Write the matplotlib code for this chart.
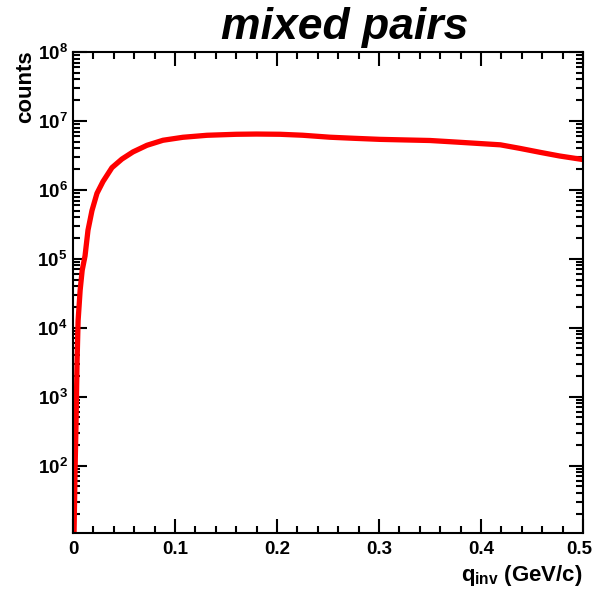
import matplotlib
matplotlib.use("Agg")
from matplotlib import pyplot as plt
from matplotlib import transforms
from matplotlib.ticker import FixedLocator, LogLocator, MultipleLocator, NullFormatter

# q_inv (GeV/c) and counts
q_inv = [0.001, 0.002, 0.003, 0.004, 0.005, 0.007, 0.009, 0.0118, 0.0147, 0.0186,
         0.0235, 0.0294, 0.0382, 0.048, 0.0588, 0.0725, 0.0882, 0.1078, 0.1314, 0.16,
         0.18, 0.203, 0.225, 0.252, 0.275, 0.301, 0.325, 0.35, 0.379, 0.419,
         0.438, 0.458, 0.477, 0.5]
counts = [1.0e1, 8.3e1, 4.4e2, 3.3e3, 1.26e4, 3.5e4, 6.8e4, 1.1e5, 2.6e5, 5.0e5,
          8.9e5, 1.32e6, 2.1e6, 2.8e6, 3.55e6, 4.43e6, 5.24e6, 5.79e6, 6.19e6, 6.4e6,
          6.45e6, 6.4e6, 6.2e6, 5.8e6, 5.6e6, 5.4e6, 5.3e6, 5.2e6, 4.9e6, 4.5e6,
          4.0e6, 3.5e6, 3.1e6, 2.75e6]

x_ticks = [0, 0.1, 0.2, 0.3, 0.4, 0.5]
x_labels = ['0', '0.1', '0.2', '0.3', '0.4', '0.5']
y_ticks = [1e2, 1e3, 1e4, 1e5, 1e6, 1e7, 1e8]
y_labels = [r'$10^{2}$', r'$10^{3}$', r'$10^{4}$', r'$10^{5}$', r'$10^{6}$', r'$10^{7}$', r'$10^{8}$']

plt.rcParams['font.family'] = 'Liberation Sans'
plt.rcParams['font.weight'] = 'bold'
plt.rcParams['mathtext.fontset'] = 'custom'
plt.rcParams['mathtext.rm'] = 'Liberation Sans:bold'
plt.rcParams['mathtext.it'] = 'Liberation Sans:bold'
plt.rcParams['mathtext.bf'] = 'Liberation Sans:bold'

fig = plt.figure(figsize=(5.94, 5.89), dpi=100)
ax = fig.add_axes([73 / 594, 1 - 533 / 589, 510 / 594, 481 / 589])

ax.plot(q_inv, counts, color='#ff0000', linewidth=3.8, solid_joinstyle='round')

ax.set_yscale('log')
ax.set_xlim(0, 0.5)
ax.set_ylim(10.5, 1e8)

ax.xaxis.set_major_locator(FixedLocator(x_ticks))
ax.set_xticklabels(x_labels)
ax.xaxis.set_minor_locator(MultipleLocator(0.02))
ax.yaxis.set_major_locator(FixedLocator(y_ticks))
ax.set_yticklabels(y_labels)
ax.yaxis.set_minor_locator(LogLocator(base=10, subs=range(2, 10)))
ax.yaxis.set_minor_formatter(NullFormatter())

ax.tick_params(which='both', direction='in', top=True, right=True, width=1.5, labelsize=13.5)
ax.tick_params(which='major', length=10)
ax.tick_params(axis='x', which='major', pad=6)
ax.tick_params(axis='y', which='major', pad=4)
ax.tick_params(which='minor', length=5)
for s in ax.spines.values():
    s.set_linewidth(1.5)

# last x label sits a little left of the frame edge, as in the original
last = ax.get_xticklabels()[-1]
last.set_transform(last.get_transform() + transforms.ScaledTranslation(-4 / 100, 0, fig.dpi_scale_trans))

fig.text(345 / 594, 1 - 28 / 589, 'mixed pairs', fontsize=32, fontweight='bold',
         fontstyle='italic', ha='center', va='center')
fig.text(583 / 594, 1 - 575 / 589, r'$q_{inv}$ (GeV/c)', fontsize=16,
         ha='right', va='center')
fig.text(26 / 594, 1 - 50 / 589, 'counts', fontsize=16, rotation=90,
         ha='center', va='top')

fig.savefig('out.png', dpi=100)
